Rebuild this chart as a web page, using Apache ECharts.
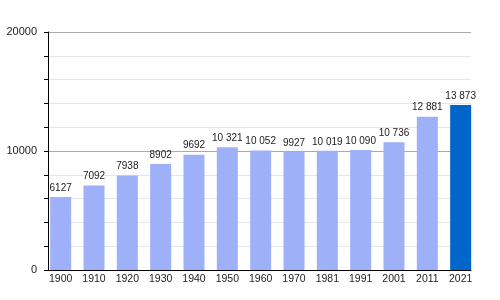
<!DOCTYPE html>
<html><head><meta charset="utf-8">
<script src="https://cdn.jsdelivr.net/npm/echarts@6/dist/echarts.min.js"></script>
<style>html,body{margin:0;padding:0;background:#fff}#c{width:500px;height:300px}</style>
</head><body><div id="c"></div>
<script>
const years = ['1900','1910','1920','1930','1940','1950','1960','1970','1981','1991','2001','2011','2021'];
const population = [6127, 7092, 7938, 8902, 9692, 10321, 10052, 9927, 10019, 10090, 10736, 12881, 13873];
const yTickLabels = [0, 10000, 20000];

const FONT = 'Liberation Sans, Arial, sans-serif';
function fmt(v){ return v >= 10000 ? String(v).replace(/\B(?=(\d{3})+(?!\d))/g, ' ') : String(v); }

const chart = echarts.init(document.getElementById('c'), null, {renderer:'canvas'});
chart.setOption({
  animation:false,
  grid:[
    {left:44, right:22.67, top:32, bottom:30},
    {left:48, right:29, top:32, bottom:30}
  ],
  xAxis:[
    {type:'category', data:years, gridIndex:0, axisLine:{show:false}, axisTick:{show:false},
     axisLabel:{color:'#222', fontSize:10.5, fontFamily:FONT, margin:4, interval:0}},
    {type:'value', gridIndex:1, min:0, max:1, axisLine:{show:true, onZero:false, lineStyle:{color:'#000', width:1}},
     axisTick:{show:false}, axisLabel:{show:false}, splitLine:{show:false}}
  ],
  yAxis:[
    {type:'value', gridIndex:0, min:0, max:20000, show:false},
    {type:'value', gridIndex:1, min:0, max:20000, interval:2000,
     axisLine:{show:true, lineStyle:{color:'#000', width:1}},
     axisTick:{show:true, length:4, lineStyle:{color:'#000'}},
     axisLabel:{color:'#222', fontSize:11, fontFamily:FONT, margin:11,
       formatter:function(v){ return yTickLabels.indexOf(v) >= 0 ? String(v) : ''; }},
     splitLine:{show:true, lineStyle:{color:['#aaaaaa','#e6e6e6','#e6e6e6','#e6e6e6','#e6e6e6'], width:1}}}
  ],
  series:[{
    type:'bar', xAxisIndex:0, yAxisIndex:0, barWidth:21,
    data: population.map((v,i)=>({value:v, itemStyle:{color: i===population.length-1 ? '#0066cc' : '#9db0f8'}})),
    label:{show:true, position:'top', distance:4, color:'#222', fontSize:10, fontFamily:FONT,
      formatter:function(p){ return fmt(p.value); }},
    z:3
  }]
});
</script></body></html>
